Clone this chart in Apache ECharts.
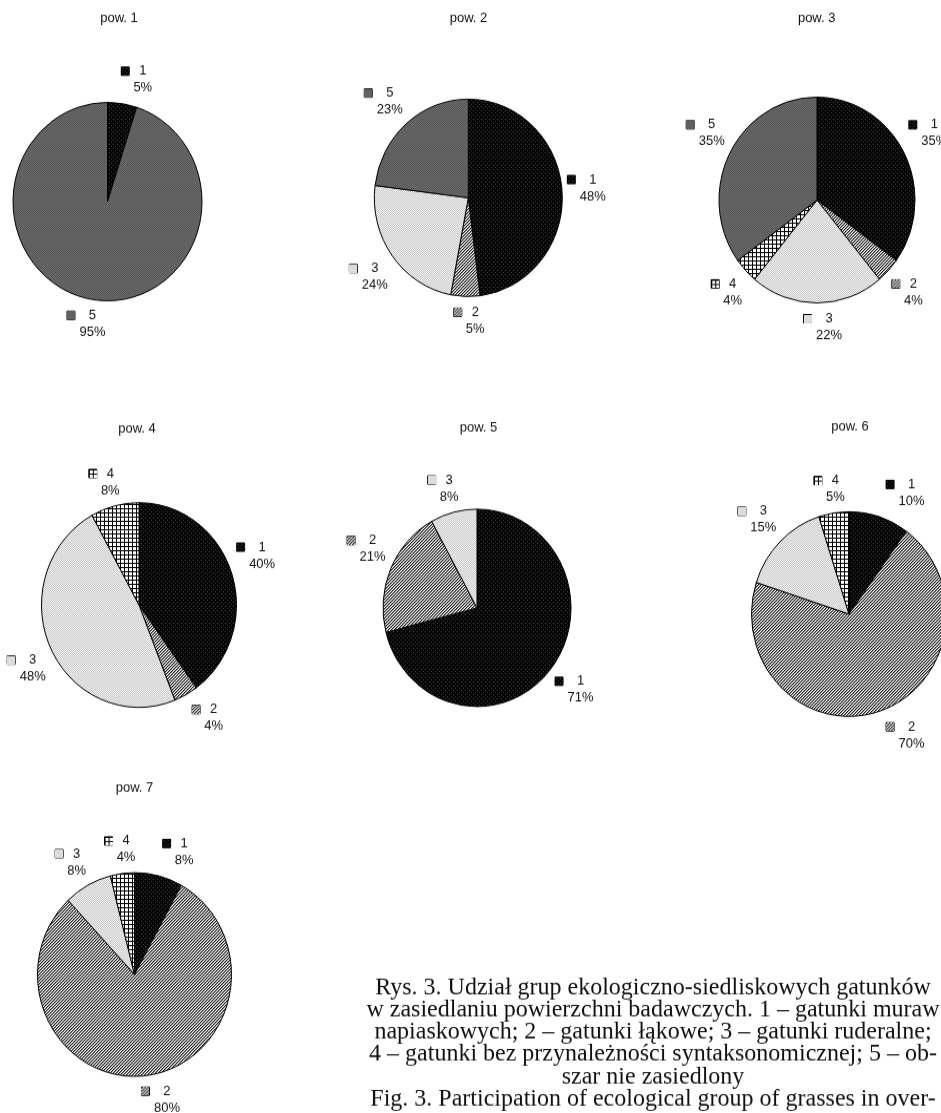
<!DOCTYPE html>
<html>
<head>
<meta charset="utf-8">
<script src="https://cdn.jsdelivr.net/npm/echarts@6/dist/echarts.min.js"></script>
<style>
  html, body { margin: 0; padding: 0; background: #fff; overflow: hidden; width: 941px; height: 1113px; }
  #wrap { position: relative; width: 941px; height: 1113px; overflow: hidden; }
  #chart { position: absolute; left: 0; top: 0; width: 941px; height: 1060px; transform: scaleY(1.05); transform-origin: 0 0; }
</style>
</head>
<body>
<div id="wrap"><div id="chart"></div></div>
<script>
// Ecological-habitat species groups (1–5) and their share (%) on each research plot.
const plotTitles = ['pow. 1', 'pow. 2', 'pow. 3', 'pow. 4', 'pow. 5', 'pow. 6', 'pow. 7'];

const pow1Groups = ['1', '5'];
const pow1Values = [5, 95];
const pow2Groups = ['1', '2', '3', '5'];
const pow2Values = [48, 5, 24, 23];
const pow3Groups = ['1', '2', '3', '4', '5'];
const pow3Values = [35, 4, 22, 4, 35];
const pow4Groups = ['1', '2', '3', '4'];
const pow4Values = [40, 4, 48, 8];
const pow5Groups = ['1', '2', '3'];
const pow5Values = [71, 21, 8];
const pow6Groups = ['1', '2', '3', '4'];
const pow6Values = [10, 70, 15, 5];
const pow7Groups = ['1', '2', '3', '4'];
const pow7Values = [8, 80, 8, 4];

const captionLines = [
  'Rys. 3. Udział grup ekologiczno-siedliskowych gatunków',
  'w zasiedlaniu powierzchni badawczych. 1 – gatunki muraw',
  'napiaskowych; 2 – gatunki łąkowe; 3 – gatunki ruderalne;',
  '4 – gatunki bez przynależności syntaksonomicznej; 5 – ob-',
  'szar nie zasiedlony',
  'Fig. 3. Participation of ecological group of grasses in over-'
];

const plots = [
  { groups: pow1Groups, values: pow1Values },
  { groups: pow2Groups, values: pow2Values },
  { groups: pow3Groups, values: pow3Values },
  { groups: pow4Groups, values: pow4Values },
  { groups: pow5Groups, values: pow5Values },
  { groups: pow6Groups, values: pow6Values },
  { groups: pow7Groups, values: pow7Values }
];

// Panel placement: pie centre / radius and title anchor (px, chart space).
const panels = [
  { cx: 107.5, cy: 192.0, r: 94.5, tx: 119.0, ty: 17.4 },
  { cx: 468.3, cy: 188.4, r: 94.0, tx: 468.5, ty: 17.4 },
  { cx: 817.0, cy: 190.5, r: 98.0, tx: 816.7, ty: 17.4 },
  { cx: 139.0, cy: 576.2, r: 97.5, tx: 137.0, ty: 408.5 },
  { cx: 477.0, cy: 578.9, r: 94.0, tx: 478.5, ty: 407.0 },
  { cx: 849.0, cy: 584.8, r: 97.5, tx: 850.0, ty: 406.7 },
  { cx: 134.5, cy: 928.1, r: 97.0, tx: 134.5, ty: 750.0 }
];

const LABEL_FONT = '"Liberation Sans", Arial, sans-serif';
const INK = '#111';

// ---- monochrome fill patterns, one per group ----
function tile(size, paint) {
  const c = document.createElement('canvas');
  c.width = c.height = size;
  const g = c.getContext('2d');
  paint(g, size);
  return c;
}
function dot(g, x, y, col) { g.fillStyle = col; g.fillRect(x, y, 1, 1); }

const tiles = {
  // black with sparse grey dots
  '1': tile(4, g => {
    g.fillStyle = '#050505'; g.fillRect(0, 0, 4, 4);
    dot(g, 1, 1, '#4a4a4a'); dot(g, 3, 3, '#3a3a3a');
  }),
  // fine upward diagonal hatch
  '2': tile(3, g => {
    for (let y = 0; y < 3; y++) for (let x = 0; x < 3; x++) {
      const d = (x + y) % 3;
      dot(g, x, y, d === 0 ? '#1e1e1e' : d === 1 ? '#8e8e8e' : '#fafafa');
    }
  }),
  // light fine checker
  '3': tile(2, g => {
    for (let y = 0; y < 2; y++) for (let x = 0; x < 2; x++) {
      dot(g, x, y, (x + y) % 2 === 0 ? '#c4c4c4' : '#f6f6f6');
    }
  }),
  // small grid
  '4': tile(4, g => {
    g.fillStyle = '#fff'; g.fillRect(0, 0, 4, 4);
    g.fillStyle = '#000'; g.fillRect(0, 0, 4, 1); g.fillRect(0, 0, 1, 4);
  }),
  // dark grey
  '5': tile(2, g => {
    for (let y = 0; y < 2; y++) for (let x = 0; x < 2; x++) {
      dot(g, x, y, (x + y) % 2 === 0 ? '#575757' : '#6c6c6c');
    }
  })
};

// legend keys shown in the data labels
function keyCanvas(t) {
  const c = document.createElement('canvas');
  c.width = c.height = 8;
  const g = c.getContext('2d');
  g.fillStyle = g.createPattern(t, 'repeat');
  g.fillRect(0, 0, 8, 8);
  return c;
}

const measureCtx = document.createElement('canvas').getContext('2d');
measureCtx.font = '13px ' + LABEL_FONT;
function textW(s) { return Math.ceil(measureCtx.measureText(s).width); }

const rich = {
  g: { width: 4, lineHeight: 16 },
  sp: { width: 12, lineHeight: 16 }
};
Object.keys(tiles).forEach(k => {
  rich['k' + k] = {
    width: 8, height: 8, lineHeight: 16,
    backgroundColor: { image: keyCanvas(tiles[k]) },
    borderColor: '#000', borderWidth: 1
  };
});
// centred text columns sized to the percentage string
const colW = { 2: textW('8%'), 3: textW('88%') };
[2, 3].forEach(n => {
  rich['c' + n] = {
    width: colW[n], align: 'center', lineHeight: 16,
    fontSize: 13, fontFamily: LABEL_FONT, color: INK
  };
});

function pct(p) { return Math.round(p.percent) + '%'; }

// Outside-end placement: the label box sits just beyond the rim on the
// slice bisector, sliding round the box as the angle changes.
function makeLabelLayout(i) {
  const pn = panels[i];
  const vals = plots[i].values;
  const total = vals.reduce((a, b) => a + b, 0);
  const clamp = (v, lo, hi) => Math.max(lo, Math.min(hi, v));
  return function (params) {
    let acc = 0;
    for (let j = 0; j < params.dataIndex; j++) acc += vals[j];
    const mid = (acc + vals[params.dataIndex] / 2) / total * Math.PI * 2;
    const ux = Math.sin(mid), uy = -Math.cos(mid);
    const d = pn.r + 7;
    const hw = params.labelRect.width / 2;
    const hh = params.labelRect.height / 2;
    const t = clamp((ux - 0.35) / 0.3, 0, 1);
    const nudge = 6 - 8 * t;
    return {
      x: pn.cx + d * ux + hw * clamp(3 * ux, -1, 1) + nudge,
      y: pn.cy + d * uy + hh * clamp(3 * uy, -1, 1),
      align: 'center',
      verticalAlign: 'middle'
    };
  };
}

const series = plots.map((pl, i) => ({
  type: 'pie',
  center: [panels[i].cx, panels[i].cy],
  radius: panels[i].r,
  startAngle: 90,
  clockwise: true,
  avoidLabelOverlap: false,
  silent: true,
  itemStyle: { borderColor: '#000', borderWidth: 1 },
  label: {
    show: true,
    position: 'outside',
    fontSize: 13,
    fontFamily: LABEL_FONT,
    color: INK,
    lineHeight: 16,
    formatter: p => {
      const s = pct(p);
      const c = 'c' + s.length;
      return '{k' + p.name + '|}{g|}{' + c + '|' + p.name + '}\n{sp|}{' + c + '|' + s + '}';
    },
    rich: rich
  },
  labelLine: { show: false },
  labelLayout: makeLabelLayout(i),
  data: pl.groups.map((g, j) => ({
    name: g,
    value: pl.values[j],
    itemStyle: { color: { image: tiles[g], repeat: 'repeat' } }
  }))
}));

const graphics = panels.map((pn, i) => ({
  type: 'text',
  x: pn.tx,
  y: pn.ty,
  silent: true,
  style: {
    text: plotTitles[i],
    font: '13px ' + LABEL_FONT,
    fill: INK,
    align: 'center',
    verticalAlign: 'middle'
  }
}));
// figure caption, centred block
graphics.push({
  type: 'text',
  x: 653,
  y: 930,
  silent: true,
  style: {
    text: captionLines.join('\n'),
    font: '24px "Liberation Serif", "Times New Roman", serif',
    fill: INK,
    align: 'center',
    verticalAlign: 'top',
    lineHeight: 21.2
  }
});

const chart = echarts.init(document.getElementById('chart'), null, { renderer: 'canvas' });
chart.setOption({
  animation: false,
  backgroundColor: '#fff',
  series: series,
  graphic: graphics
});
</script>
</body>
</html>
